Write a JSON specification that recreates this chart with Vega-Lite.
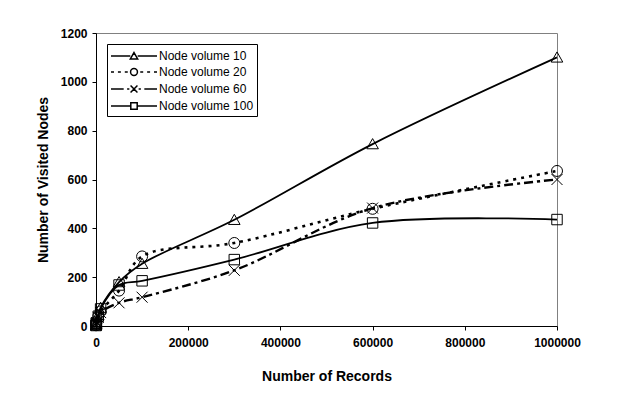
{
  "$schema": "https://vega.github.io/schema/vega-lite/v6.json",
  "autosize": "none",
  "width": 461,
  "height": 293,
  "padding": {"left": 96, "top": 33, "right": 61, "bottom": 70},
  "background": "white",
  "config": {
    "font": "Liberation Sans",
    "view": {"stroke": "#808080", "strokeWidth": 1},
    "axis": {
      "grid": false,
      "domainColor": "black",
      "domainWidth": 1,
      "tickColor": "black",
      "tickSize": 4,
      "labelFont": "Liberation Sans",
      "labelFontSize": 12,
      "labelFontWeight": "bold",
      "labelColor": "black",
      "titleFont": "Liberation Sans",
      "titleFontSize": 14,
      "titleFontWeight": "bold",
      "titleColor": "black"
    },
    "legend": {
      "orient": "none",
      "legendX": 11,
      "legendY": 11,
      "strokeColor": "black",
      "fillColor": "white",
      "padding": 3,
      "labelFont": "Liberation Sans",
      "labelFontSize": 12,
      "labelColor": "black",
      "labelOffset": 16,
      "symbolOffset": 15,
      "rowPadding": 1,
      "symbolSize": 256,
      "symbolStrokeColor": "black",
      "symbolStrokeWidth": 1.5,
      "symbolFillColor": "transparent"
    }
  },
  "data": {
    "values": [
      {"series": "Node volume 10", "records": 100, "nodes": 3},
      {"series": "Node volume 10", "records": 500, "nodes": 8},
      {"series": "Node volume 10", "records": 1000, "nodes": 15},
      {"series": "Node volume 10", "records": 5000, "nodes": 45},
      {"series": "Node volume 10", "records": 10000, "nodes": 75},
      {"series": "Node volume 10", "records": 50000, "nodes": 180},
      {"series": "Node volume 10", "records": 100000, "nodes": 255},
      {"series": "Node volume 10", "records": 300000, "nodes": 435},
      {"series": "Node volume 10", "records": 600000, "nodes": 745},
      {"series": "Node volume 10", "records": 1000000, "nodes": 1100},
      {"series": "Node volume 20", "records": 100, "nodes": 3},
      {"series": "Node volume 20", "records": 500, "nodes": 10},
      {"series": "Node volume 20", "records": 1000, "nodes": 18},
      {"series": "Node volume 20", "records": 5000, "nodes": 40},
      {"series": "Node volume 20", "records": 10000, "nodes": 60},
      {"series": "Node volume 20", "records": 50000, "nodes": 145},
      {"series": "Node volume 20", "records": 100000, "nodes": 285},
      {"series": "Node volume 20", "records": 300000, "nodes": 340},
      {"series": "Node volume 20", "records": 600000, "nodes": 480},
      {"series": "Node volume 20", "records": 1000000, "nodes": 635},
      {"series": "Node volume 60", "records": 100, "nodes": 2},
      {"series": "Node volume 60", "records": 500, "nodes": 8},
      {"series": "Node volume 60", "records": 1000, "nodes": 14},
      {"series": "Node volume 60", "records": 5000, "nodes": 35},
      {"series": "Node volume 60", "records": 10000, "nodes": 55},
      {"series": "Node volume 60", "records": 50000, "nodes": 95},
      {"series": "Node volume 60", "records": 100000, "nodes": 118},
      {"series": "Node volume 60", "records": 300000, "nodes": 228},
      {"series": "Node volume 60", "records": 600000, "nodes": 483},
      {"series": "Node volume 60", "records": 1000000, "nodes": 600},
      {"series": "Node volume 100", "records": 100, "nodes": 2},
      {"series": "Node volume 100", "records": 500, "nodes": 6},
      {"series": "Node volume 100", "records": 1000, "nodes": 12},
      {"series": "Node volume 100", "records": 5000, "nodes": 40},
      {"series": "Node volume 100", "records": 10000, "nodes": 70},
      {"series": "Node volume 100", "records": 50000, "nodes": 168},
      {"series": "Node volume 100", "records": 100000, "nodes": 185},
      {"series": "Node volume 100", "records": 300000, "nodes": 272},
      {"series": "Node volume 100", "records": 600000, "nodes": 422},
      {"series": "Node volume 100", "records": 1000000, "nodes": 436}
    ]
  },
  "encoding": {
    "x": {
      "field": "records", "type": "quantitative",
      "scale": {"domain": [0, 1000000], "nice": false, "zero": true},
      "axis": {"values": [0, 200000, 400000, 600000, 800000, 1000000], "format": "d", "title": "Number of Records", "labelPadding": 7, "titlePadding": 21, "labelFlush": false}
    },
    "y": {
      "field": "nodes", "type": "quantitative",
      "scale": {"domain": [0, 1200], "nice": false},
      "axis": {"values": [0, 200, 400, 600, 800, 1000, 1200], "format": "d", "title": "Number of Visited Nodes", "labelPadding": 5, "titlePadding": 10}
    },
    "color": {
      "field": "series", "type": "nominal",
      "scale": {"domain": ["Node volume 10", "Node volume 20", "Node volume 60", "Node volume 100"], "range": ["black", "black", "black", "black"]},
      "legend": {
        "title": null,
        "symbolType": {"expr": "datum.value === 'Node volume 10' ? 'M-2.875,0H-0.46M0.46,0H2.875M0,-0.43L0.46,0.37L-0.46,0.37Z' : datum.value === 'Node volume 20' ? 'M-2.875,0H-2.5M-2.01,0H-1.64M-1.15,0H-0.78M0.78,0H1.15M1.64,0H2.01M2.5,0H2.875M0.43,0A0.43,0.43 0 1 1 -0.43,0A0.43,0.43 0 1 1 0.43,0' : datum.value === 'Node volume 60' ? 'M-2.875,0H-1.29M-0.86,0H-0.58M0.58,0H0.86M1.29,0H2.875M-0.43,-0.43L0.43,0.43M-0.43,0.43L0.43,-0.43' : 'M-2.875,0H-0.4M0.4,0H2.875M-0.4,-0.4H0.4V0.4H-0.4Z'"}
      }
    }
  },
  "layer": [
    {
      "transform": [{"filter": "datum.series === 'Node volume 10'"}],
      "layer": [
        {"mark": {"type": "line", "interpolate": "catmull-rom", "strokeWidth": 1.8}, "encoding": {}},
        {"mark": {"type": "point", "filled": false, "strokeWidth": 1, "opacity": 1, "size": 121, "shape": "M0,-1L1.05,0.85L-1.05,0.85Z"}, "encoding": {}}
      ]
    },
    {
      "transform": [{"filter": "datum.series === 'Node volume 20'"}],
      "layer": [
        {"mark": {"type": "line", "interpolate": "catmull-rom", "strokeWidth": 2.6, "strokeDash": [3, 5], "strokeCap": "butt"}, "encoding": {}},
        {"mark": {"type": "point", "filled": false, "strokeWidth": 1, "opacity": 1, "size": 121, "shape": "M1,0A1,1 0 1 1 -1,0A1,1 0 1 1 1,0Z"}, "encoding": {}}
      ]
    },
    {
      "transform": [{"filter": "datum.series === 'Node volume 60'"}],
      "layer": [
        {"mark": {"type": "line", "interpolate": "catmull-rom", "strokeWidth": 2.4, "strokeDash": [9, 4, 3, 4], "strokeCap": "butt"}, "encoding": {}},
        {"mark": {"type": "point", "filled": false, "strokeWidth": 1, "opacity": 1, "size": 121, "shape": "M-1,-1L1,1M-1,1L1,-1"}, "encoding": {}}
      ]
    },
    {
      "transform": [{"filter": "datum.series === 'Node volume 100'"}],
      "layer": [
        {"mark": {"type": "line", "interpolate": "catmull-rom", "strokeWidth": 1.8}, "encoding": {}},
        {"mark": {"type": "point", "filled": false, "strokeWidth": 1, "opacity": 1, "size": 121, "shape": "M-0.95,-0.95H0.95V0.95H-0.95Z"}, "encoding": {}}
      ]
    }
  ]
}
